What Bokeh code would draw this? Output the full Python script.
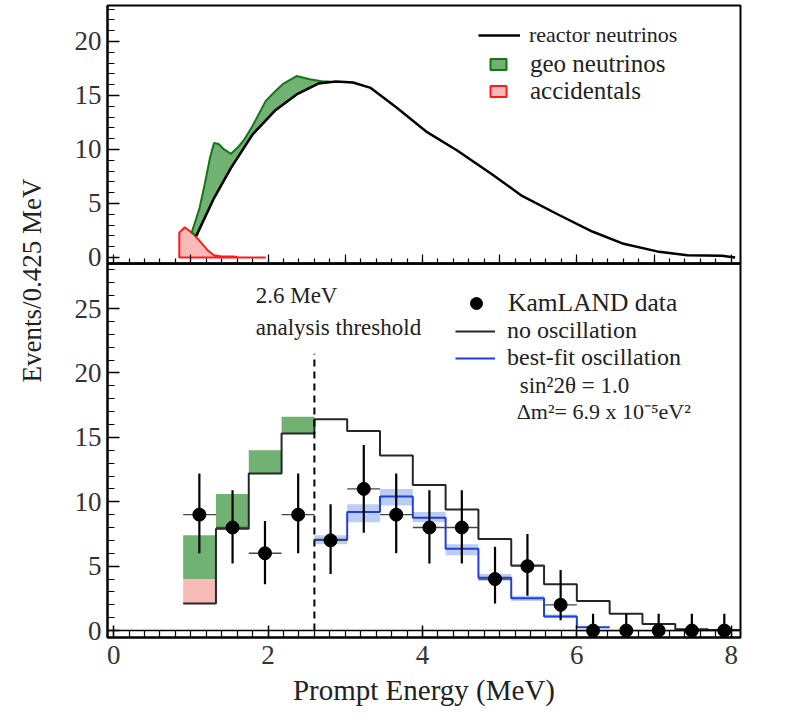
import math
from bokeh.plotting import figure
from bokeh.models import (Range1d, SingleIntervalTicker, FixedTicker, LinearAxis, Legend,
                          LegendItem, Label, Span)
from bokeh.layouts import row, column
from bokeh.embed import file_html
from bokeh.resources import INLINE

FONT = "Liberation Serif"

# ---------------- top panel: expected spectra ----------------
reactor_E = [1.07, 1.30, 1.52, 1.80, 2.09, 2.37, 2.65, 2.88, 3.10, 3.33, 3.66, 4.06,
             4.45, 4.90, 5.29, 5.75, 6.20, 6.59, 7.04, 7.43, 7.88, 8.05]
reactor_N = [2.0, 5.5, 8.3, 11.4, 13.6, 15.1, 16.1, 16.3, 16.2, 15.7, 13.9, 11.6,
             9.9, 7.7, 5.7, 4.0, 2.4, 1.3, 0.56, 0.2, 0.15, 0.0]
geo_E = [1.01, 1.11, 1.18, 1.25, 1.30, 1.36, 1.43, 1.52, 1.61, 1.69, 1.80, 1.97,
         2.08, 2.20, 2.37, 2.54, 2.71, 2.80]
geo_N = [2.3, 4.5, 6.8, 9.3, 10.6, 10.5, 10.0, 9.6, 10.2, 10.9, 12.2, 14.5,
         15.3, 16.1, 16.8, 16.5, 16.3, 16.3]
acc_E = [0.85, 0.85, 0.92, 1.03, 1.13, 1.22, 1.30, 1.40, 1.56, 1.62, 1.97]
acc_N = [0.0, 2.3, 2.8, 2.2, 1.4, 0.65, 0.2, 0.08, 0.08, 0.0, 0.0]

# ---------------- bottom panel: binned spectra ----------------
bin_edges = [0.9, 1.325, 1.75, 2.175, 2.6, 3.025, 3.45, 3.875, 4.3, 4.725, 5.15,
             5.575, 6.0, 6.425, 6.85, 7.275, 7.7, 8.125]
noosc_N = [2.1, 7.9, 12.2, 15.3, 16.4, 15.5, 13.6, 11.3, 9.4, 7.1, 5.05, 3.6,
           2.3, 1.3, 0.5, 0.1, 0.05]
low_acc_N = [1.9, 0.0, 0.0, 0.0]
low_geo_N = [3.4, 2.7, 1.8, 1.3]
fit_edges = [2.6, 3.025, 3.45, 3.875, 4.3, 4.725, 5.15, 5.575, 6.0, 6.425]
fit_N = [7.05, 9.2, 10.4, 8.75, 6.35, 4.1, 2.5, 1.1, 0.26]
fit_lo = [6.7, 8.4, 9.7, 8.4, 5.85, 3.85, 2.3, 0.95, 0.2]
fit_hi = [7.4, 9.8, 11.0, 9.2, 6.7, 4.4, 2.7, 1.25, 0.32]
data_E = [1.11, 1.54, 1.96, 2.39, 2.81, 3.24, 3.66, 4.09, 4.51, 4.94, 5.36, 5.79,
          6.21, 6.64, 7.06, 7.49, 7.91]
data_N = [9, 8, 6, 9, 7, 11, 9, 8, 8, 4, 5, 2, 0, 0, 0, 0, 0]
data_hi = [12.2, 10.9, 8.5, 12.2, 9.8, 14.4, 12.2, 10.9, 10.9, 6.5, 7.5, 4.7,
           1.3, 1.3, 1.3, 1.3, 1.3]
data_lo = [6.0, 5.2, 3.6, 6.0, 4.4, 7.6, 6.0, 5.2, 5.2, 2.1, 2.7, 0.8, 0, 0, 0, 0, 0]
threshold_E = 2.6
threshold_top = 21.5

x_tick_labels = ["0", "2", "4", "6", "8"]

GREEN_FILL = "#62a862"
GREEN_LINE = "#16751a"
PINK_FILL = "#f8b9b9"
RED_LINE = "#ff1a1a"
BLUE = "#1f3fd6"
BAND = "#aac0f2"
TICK_FS = "27px"


def style_axis(ax, tick_in=12, minor_in=7):
    ax.axis_line_width = 2
    ax.major_tick_out = 0
    ax.minor_tick_out = 0
    ax.major_tick_in = tick_in
    ax.minor_tick_in = minor_in
    ax.major_tick_line_width = 1.5
    ax.minor_tick_line_width = 1.2
    ax.major_label_text_font = FONT
    ax.major_label_text_font_size = TICK_FS
    ax.major_label_text_color = "#333333"


def make_legend(label, renderer, loc, fs, gw, gh, standoff):
    return Legend(items=[LegendItem(label=label, renderers=[renderer])],
                  location=loc, glyph_width=gw, glyph_height=gh, label_standoff=standoff,
                  padding=0, margin=0, spacing=0, border_line_color=None,
                  background_fill_alpha=0, label_text_font=FONT,
                  label_text_font_size=fs, label_text_color="#222222", label_height=10)


# ---------------- top figure ----------------
top = figure(frame_width=633, frame_height=258, x_range=Range1d(-0.08, 8.12),
             y_range=Range1d(-0.56, 23.33), toolbar_location=None, output_backend="svg",
             x_axis_location=None,
             min_border_left=57, min_border_right=45, min_border_top=5, min_border_bottom=12)
top.outline_line_color = "black"
top.outline_line_width = 2
top.grid.visible = False
top.yaxis.ticker = SingleIntervalTicker(interval=5, num_minor_ticks=5)
style_axis(top.yaxis[0])
top.yaxis.major_label_standoff = 6
# unlabeled energy ticks along the panel divider
fine_ticks = [i / 5 for i in range(0, 41)]
unit_ticks = [float(i) for i in range(0, 9)]
for mticks, tin in ((fine_ticks, 5), (unit_ticks, 9)):
    ax = LinearAxis(ticker=FixedTicker(ticks=[], minor_ticks=mticks))
    ax.axis_line_width = 2
    ax.minor_tick_out = 0
    ax.minor_tick_in = tin
    ax.minor_tick_line_width = 1.2
    ax.major_label_standoff = 0
    top.add_layout(ax, "below")

acc_r = top.patch(acc_E, acc_N, fill_color=PINK_FILL, line_color=RED_LINE, line_width=2)
sel = [i for i, e in enumerate(reactor_E) if e <= geo_E[-1]]
patch_x = geo_E + [reactor_E[i] for i in reversed(sel)]
patch_y = geo_N + [reactor_N[i] for i in reversed(sel)]
geo_r = top.patch(patch_x, patch_y, fill_color=GREEN_FILL, fill_alpha=0.9,
                  line_color=GREEN_LINE, line_width=2)
reac_r = top.line(reactor_E, reactor_N, line_color="black", line_width=2.5)

top.add_layout(make_legend("reactor neutrinos", reac_r, (371, 215), "22px", 42, 20, 9))
top.add_layout(make_legend("geo neutrinos", geo_r, (381, 185), "25px", 20, 14, 22))
top.add_layout(make_legend("accidentals", acc_r, (381, 158), "25px", 20, 14, 22))

# ---------------- bottom figure ----------------
bot = figure(frame_width=633, frame_height=374, x_range=top.x_range,
             y_range=Range1d(-0.54, 28.5), toolbar_location=None, output_backend="svg",
             min_border_left=57, min_border_right=45, min_border_top=0, min_border_bottom=80,
             margin=(-12, 0, 0, 0))
bot.border_fill_alpha = 0
bot.background_fill_alpha = 0
bot.outline_line_color = "black"
bot.outline_line_width = 2
bot.grid.visible = False
bot.xaxis.ticker = SingleIntervalTicker(interval=2, num_minor_ticks=10)
bot.yaxis.ticker = SingleIntervalTicker(interval=5, num_minor_ticks=5)
style_axis(bot.xaxis[0])
style_axis(bot.yaxis[0])
bot.yaxis.major_label_standoff = 6
bot.xaxis.major_label_standoff = 8
bot.xaxis.major_label_overrides = {i * 2: t for i, t in enumerate(x_tick_labels)}
bot.xaxis.axis_label = "Prompt Energy (MeV)"
bot.xaxis.axis_label_text_font = FONT
bot.xaxis.axis_label_text_font_size = "29px"
bot.xaxis.axis_label_text_font_style = "normal"
bot.xaxis.axis_label_text_color = "#222222"
bot.xaxis.axis_label_standoff = 7

# fit uncertainty band
bot.quad(left=fit_edges[:-1], right=fit_edges[1:], bottom=fit_lo, top=fit_hi,
         fill_color=BAND, fill_alpha=0.8, line_color=None)
# accidentals + geo stacked on the reactor expectation below threshold
n_low = len(low_acc_N)
acc_top = [noosc_N[i] + low_acc_N[i] for i in range(n_low)]
geo_top = [acc_top[i] + low_geo_N[i] for i in range(n_low)]
bot.quad(left=bin_edges[:n_low], right=bin_edges[1:n_low + 1], bottom=noosc_N[:n_low],
         top=acc_top, fill_color=PINK_FILL, line_color=None)
bot.quad(left=bin_edges[:n_low], right=bin_edges[1:n_low + 1], bottom=acc_top,
         top=geo_top, fill_color=GREEN_FILL, fill_alpha=0.9, line_color=None)

bot.add_layout(Span(location=0, dimension="width", line_color="black", line_width=1.5))

noosc_r = bot.step(bin_edges, noosc_N + [noosc_N[-1]], mode="after",
                   line_color="#262626", line_width=2)
fit_r = bot.step(fit_edges, fit_N + [fit_N[-1]], mode="after",
                 line_color=BLUE, line_width=2)

bot.segment(x0=[threshold_E], y0=[0], x1=[threshold_E], y1=[threshold_top],
            line_color="black", line_width=2, line_dash="7 5")

bot.segment(x0=bin_edges[:-1], y0=data_N, x1=bin_edges[1:], y1=data_N,
            line_color="#444444", line_width=1.3)
bot.segment(x0=data_E, y0=data_lo, x1=data_E, y1=data_hi,
            line_color="black", line_width=2.2)
data_r = bot.scatter(data_E, data_N, size=13, marker="circle", fill_color="black",
                     line_color="black")

bot.add_layout(make_legend("KamLAND data", data_r, (354, 319), "25.5px", 30, 30, 17))
bot.add_layout(make_legend("no oscillation", noosc_r, (348, 293), "24px", 40, 20, 12))
bot.add_layout(make_legend("best-fit oscillation", fit_r, (348, 266), "24px", 40, 20, 12))

for txt, xx, yy, fs in [("sin\u00b22\u03b8 = 1.0", 5.26, 19.0, "23px"),
                        ("\u0394m\u00b2= 6.9 x 10\u207b\u2075eV\u00b2", 5.22, 17.0, "22px"),
                        ("2.6 MeV", 1.84, 26.0, "23px"),
                        ("analysis threshold", 1.84, 23.5, "23px")]:
    bot.add_layout(Label(x=xx, y=yy, text=txt, text_font=FONT, text_font_size=fs,
                         text_color="#222222", text_baseline="middle", text_align="left"))

# ---------------- shared y-axis title ----------------
lab = figure(width=50, height=720, x_range=Range1d(0, 50), y_range=Range1d(0, 720),
             x_axis_type=None, y_axis_type=None, min_border=0, outline_line_color=None,
             toolbar_location=None, output_backend="svg")
lab.add_layout(Label(x=31, y=440, text="Events/0.425 MeV", angle=math.pi / 2,
                     text_font=FONT, text_font_size="27px", text_color="#222222",
                     text_align="center", text_baseline="middle"))

layout = row(lab, column(top, bot, spacing=0), spacing=0)
open("out.html", "w").write(file_html(layout, INLINE))
